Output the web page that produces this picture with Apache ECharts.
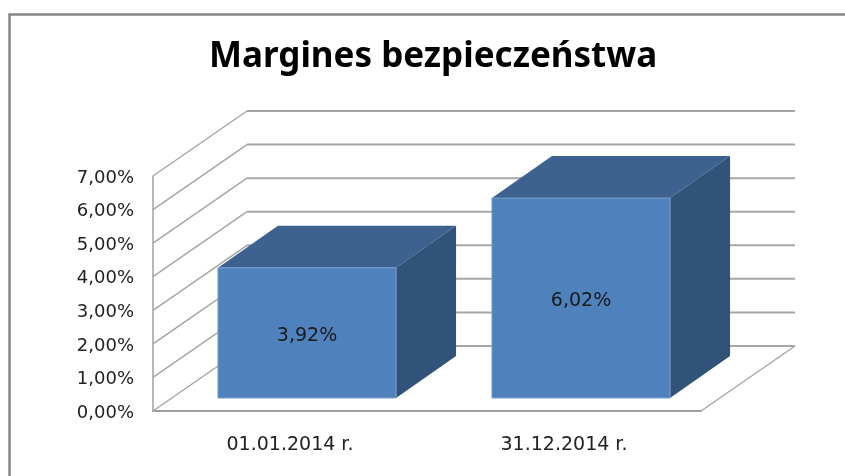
<!DOCTYPE html>
<html>
<head>
<meta charset="utf-8">
<style>
html, body { margin: 0; padding: 0; background: #fff; }
#main { width: 845px; height: 476px; }
</style>
<script src="https://cdn.jsdelivr.net/npm/echarts@6/dist/echarts.min.js"></script>
</head>
<body>
<div id="main"></div>
<script>
var categories = ['01.01.2014 r.', '31.12.2014 r.'];
var values = [3.92, 6.02];
var yTicks = [0, 1, 2, 3, 4, 5, 6, 7];

// fake 3d, offsets in px
var wallDx = 94, wallDy = -65;
var boxDx = 17, boxDy = -13;
var sideDx = 60, sideDy = -42;
var barRatio = 0.65;
var barScale = 0.989;

function fmt(v) {
    return v.toFixed(2).replace('.', ',') + '%';
}

function renderWall(params, api) {
    var cs = params.coordSys;
    var y = api.coord([0, api.value(0)])[1];
    var x0 = cs.x, x1 = cs.x + cs.width;
    var diag = { stroke: '#a6a6a6', lineWidth: 1.5, fill: null };
    var back = { stroke: '#a6a6a6', lineWidth: 2, fill: null };
    var children = [
        { type: 'line', shape: { x1: x0, y1: y, x2: x0 + wallDx, y2: y + wallDy }, style: diag },
        { type: 'line', shape: { x1: x0 + wallDx, y1: y + wallDy, x2: x1 + wallDx, y2: y + wallDy }, style: back }
    ];
    if (api.value(0) === 0) {
        children.push({ type: 'line', shape: { x1: x1, y1: y, x2: x1 + wallDx, y2: y + wallDy }, style: diag });
    }
    return { type: 'group', children: children };
}

function renderBox(params, api) {
    var base = api.coord([api.value(0), 0]);
    var h = api.size([0, api.value(1)])[1] * barScale;
    var w = api.size([1, 0])[0] * barRatio;
    var l = base[0] + boxDx - w / 2, r = l + w;
    var b = base[1] + boxDy, t = b - h;
    return {
        type: 'group',
        children: [
            { type: 'polygon', shape: { points: [[l, t], [r, t], [r + sideDx, t + sideDy], [l + sideDx, t + sideDy]] },
              style: { fill: '#3d628f' } },
            { type: 'polygon', shape: { points: [[r, t], [r + sideDx, t + sideDy], [r + sideDx, b + sideDy], [r, b]] },
              style: { fill: '#315379' } },
            { type: 'rect', shape: { x: l, y: t, width: w, height: h },
              style: { fill: '#4f81bd', stroke: '#7a9fcd', lineWidth: 1 } },
            { type: 'text', x: (l + r) / 2, y: (t + b) / 2 + 3,
              style: { text: fmt(api.value(1)), fill: '#1a1a1a', font: '19px "DejaVu Sans"', align: 'center', verticalAlign: 'middle' } }
        ]
    };
}

var myChart = echarts.init(document.querySelector('#main'));

var option = {
    animation: false,
    backgroundColor: '#fff',
    title: {
        text: 'Margines bezpieczeństwa',
        left: 204,
        top: 35,
        textStyle: { fontFamily: 'Noto Sans', fontWeight: 'bold', fontSize: 35, color: '#000' }
    },
    graphic: [{
        type: 'polyline',
        shape: { points: [[9.5, 476], [9.5, 14.5], [845, 14.5]] },
        style: { stroke: '#868686', lineWidth: 2.5, fill: null }
    }],
    grid: { left: 153, right: 144, top: 176, bottom: 65 },
    xAxis: {
        type: 'category',
        data: categories,
        axisTick: { show: false },
        axisLine: { lineStyle: { color: '#a0a0a0', width: 2 } },
        axisLabel: { margin: 25, color: '#222', fontFamily: 'DejaVu Sans', fontSize: 19 }
    },
    yAxis: {
        type: 'value',
        min: 0,
        max: 7,
        interval: 1,
        splitLine: { show: false },
        axisTick: { show: false },
        axisLine: { show: true, lineStyle: { color: '#a0a0a0', width: 1.5 } },
        axisLabel: {
            margin: 19,
            formatter: function (v) { return '{t|' + fmt(v) + '}'; },
            rich: { t: { padding: [4, 0, 0, 0], color: '#222', fontFamily: 'DejaVu Sans', fontSize: 18 } }
        }
    },
    series: [
        { type: 'custom', renderItem: renderWall, data: yTicks.map(function (v) { return [v]; }), encode: { y: 0 }, silent: true, clip: false, z: 1 },
        { type: 'custom', renderItem: renderBox, data: values.map(function (v, i) { return [i, v]; }), encode: { x: 0, y: 1 }, clip: false, z: 2 }
    ]
};
myChart.setOption(option);
</script>
</body>
</html>
